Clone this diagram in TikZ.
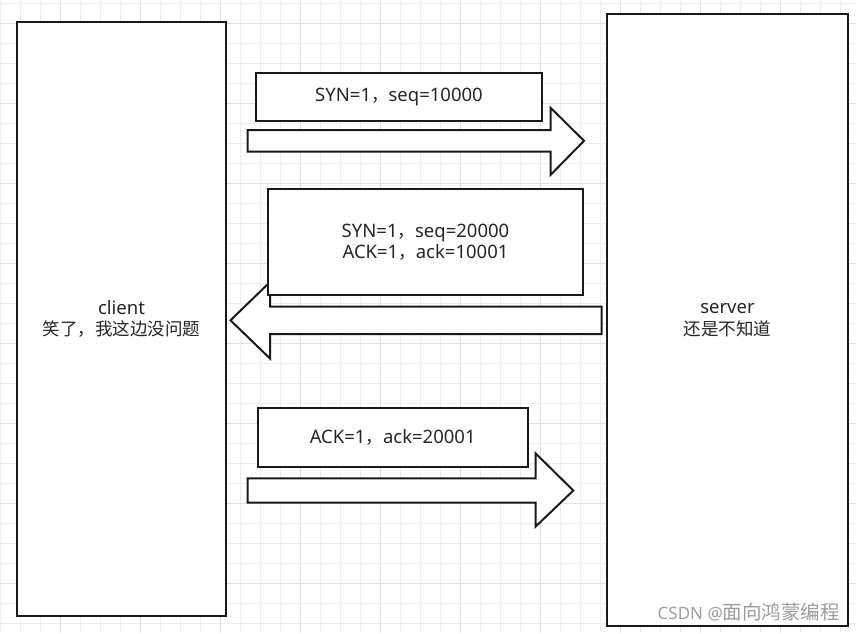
\documentclass[tikz,border=0pt]{standalone}
\usepackage{fontspec}
\setmainfont{Noto Sans}
\newfontfamily\cjk{Noto Sans CJK SC}
\newcommand{\zh}[1]{{\cjk\fontsize{17.5}{21.5}\selectfont #1}}
\newcommand{\zhm}[1]{{\cjk\fontsize{19.5}{21.5}\selectfont #1}}
\begin{document}
\begin{tikzpicture}[x=1pt,y=-1pt,
  minorgrid/.style={draw=black!7,line width=0.8pt},
  majorgrid/.style={draw=black!12,line width=1pt},
  bigbox/.style={draw=black!90,line width=2pt,fill=white,rectangle,inner sep=0pt,align=center,font=\fontsize{18.5}{21.5}\selectfont,text=black!85},
  labelbox/.style={draw=black!90,line width=2pt,fill=white,rectangle,inner sep=0pt,align=center,font=\fontsize{18.5}{21.5}\selectfont,text=black!85},
  blockarrow/.style={draw=black!90,line width=2pt,fill=white,line join=miter},
  watermark/.style={font=\fontsize{17}{20}\selectfont,text=black!38,inner sep=0pt}
]
\useasboundingbox (0,0) rectangle (856,633);
\fill[white] (0,0) rectangle (856,633);
% grid
\foreach \x in {0,20,...,856} \draw[minorgrid] (\x,0) -- (\x,633);
\foreach \y in {3.3,23.3,...,633} \draw[minorgrid] (0,\y) -- (856,\y);
\foreach \x in {60,140,...,856} \draw[majorgrid] (\x,0) -- (\x,633);
\foreach \y in {23.3,103.3,...,633} \draw[majorgrid] (0,\y) -- (856,\y);

% client and server
\node[bigbox,minimum width=209pt,minimum height=594pt] (client) at (121.5,319) {client\\\zh{笑了，我这边没问题}};
\node[bigbox,minimum width=241pt,minimum height=612pt] (server) at (727.5,320) {server\\\zh{还是不知道}};

% arrow 1 (client -> server)
\draw[blockarrow] (247.5,130) -- (550.5,130) -- (550.5,107.7) -- (584,140.8) -- (550.5,175) -- (550.5,151.7) -- (247.5,151.7) -- cycle;
\node[labelbox,minimum width=285.7pt,minimum height=47.7pt] (syn) at (399,97.2) {SYN=1\zh{，}seq=10000};

% arrow 2 (server -> client)
\draw[blockarrow] (601.5,306.7) -- (270,306.7) -- (270,282) -- (230.5,320.3) -- (270,358.5) -- (270,334) -- (601.5,334) -- cycle;
\node[labelbox,minimum width=315.6pt,minimum height=105.7pt] (synack) at (425.5,242.2) {SYN=1\zh{，}seq=20000\\ACK=1\zh{，}ack=10001};

% arrow 3 (client -> server)
\draw[blockarrow] (247.5,478.3) -- (535.5,478.3) -- (535.5,453.3) -- (573.3,490.5) -- (535.5,526.7) -- (535.5,502.7) -- (247.5,502.7) -- cycle;
\node[labelbox,minimum width=270pt,minimum height=58.4pt] (ack) at (392.7,437.5) {ACK=1\zh{，}ack=20001};

% watermark
\node[watermark,anchor=east] (wm) at (840,612) {CSDN @\zhm{面向鸿蒙编程}};
\end{tikzpicture}
\end{document}
